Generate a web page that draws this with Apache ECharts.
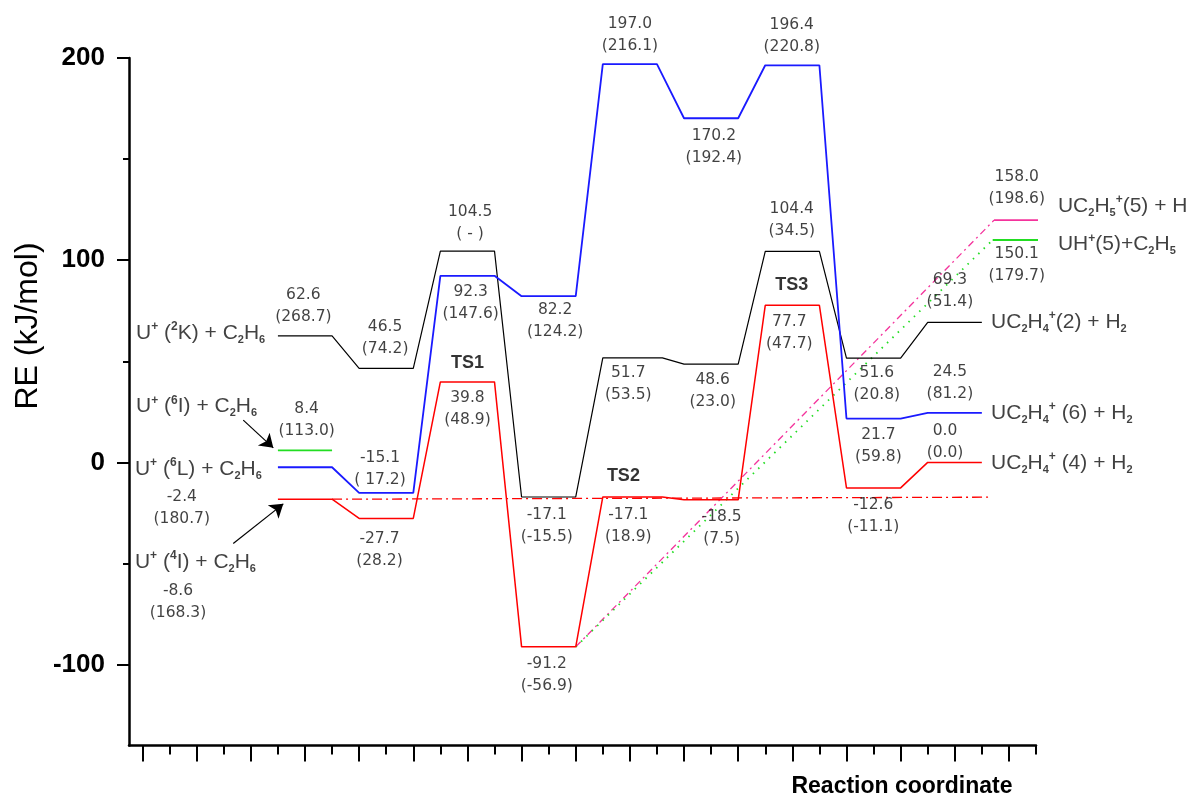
<!DOCTYPE html>
<html><head><meta charset="utf-8">
<script src="https://cdn.jsdelivr.net/npm/echarts@6/dist/echarts.min.js"></script>
<style>html,body{margin:0;padding:0;background:#fff}#c{width:1191px;height:799px}</style>
</head><body><div id="c"></div>
<script>
// ---- energy profile paths: [reaction coordinate, RE (kJ/mol)] ----
const blackPath = [[5,62.6],[7,62.6],[8,46.5],[10,46.5],[11,104.5],[13,104.5],[14,-17.1],[16,-17.1],[17,51.7],[19.2,51.7],[20,48.6],[22,48.6],[23,104.4],[25,104.4],[26,51.6],[28,51.6],[29,69.3],[31,69.3]];
const bluePath  = [[5,-2.4],[7,-2.4],[8,-15.1],[10,-15.1],[11,92.3],[13,92.3],[14,82.2],[16,82.2],[17,197.0],[19,197.0],[20,170.2],[22,170.2],[23,196.4],[25,196.4],[26,21.7],[28,21.7],[29,24.5],[31,24.5]];
const redPath   = [[5,-18.2],[7,-18.2],[8,-27.7],[10,-27.7],[11,39.8],[13,39.8],[14,-91.2],[16,-91.2],[17,-17.1],[19.2,-17.1],[20,-18.5],[22,-18.5],[23,77.7],[25,77.7],[26,-12.6],[28,-12.6],[29,0.0],[31,0.0]];
const greenLevel = [[5,6.0],[7,6.0]];
const redRefLine = [[7,-18.2],[31.25,-17.2]];
const pinkPath  = [[16,-91.2],[31.45,119.8]];
const pinkLevel = [[31.45,119.8],[33.2,119.8]];
const limePath  = [[16,-91.2],[31.4,110.0]];
const limeLevel = [[31.4,110.0],[33.15,110.0]];

// ---- energy value labels (upper line, lower line) and anchors in data coords ----
const valueTop    = ['62.6','46.5','104.5','92.3','82.2','39.8','8.4','-15.1','-27.7','197.0','170.2','196.4','104.4','77.7','51.7','48.6','-17.1','-17.1','-18.5','-91.2','51.6','69.3','24.5','21.7','0.0','-12.6','158.0','150.1','-2.4','-8.6'];
const valueBottom = ['(268.7)','(74.2)','( - )','(147.6)','(124.2)','(48.9)','(113.0)','( 17.2)','(28.2)','(216.1)','(192.4)','(220.8)','(34.5)','(47.7)','(53.5)','(23.0)','(-15.5)','(18.9)','(7.5)','(-56.9)','(20.8)','(51.4)','(81.2)','(59.8)','(0.0)','(-11.1)','(198.6)','(179.7)','(180.7)','(168.3)'];
const valueAnchors = [[5.94,77.4],[8.96,61.5],[12.1,118.3],[12.12,78.8],[15.24,69.9],[12.0,26.3],[6.06,20.8],[8.77,-3.2],[8.75,-43.4],[18.0,211.6],[21.1,155.9],[23.98,210.8],[23.98,120.1],[23.89,63.8],[17.94,38.8],[21.06,35.4],[14.93,-31.3],[17.94,-31.3],[21.39,-32.6],[14.93,-105.1],[27.12,38.6],[29.82,84.6],[29.82,39.1],[27.18,8.0],[29.64,10.3],[26.99,-26.3],[32.29,135.5],[32.29,97.7],[1.45,-22.6],[1.31,-69.0]];

// ---- transition state labels ----
const tsNames = ['TS1','TS2','TS3'];
const tsAnchors = [[12.0,49.3],[17.76,-6.8],[23.98,87.7]];

// ---- species labels (rich text) ----
const speciesNames = [
  'U{sup|+} ({sup|2}K) + C{sub|2}H{sub|6}',
  'U{sup|+} ({sup|6}I) + C{sub|2}H{sub|6}',
  'U{sup|+} ({sup|6}L) + C{sub|2}H{sub|6}',
  'U{sup|+} ({sup|4}I) + C{sub|2}H{sub|6}',
  'UC{sub|2}H{sub|5}{sup|+}(5) + H',
  'UH{sup|+}(5)+C{sub|2}H{sub|5}',
  'UC{sub|2}H{sub|4}{sup|+}(2) + H{sub|2}',
  'UC{sub|2}H{sub|4}{sup|+} (6) + H{sub|2}',
  'UC{sub|2}H{sub|4}{sup|+} (4) + H{sub|2}'
];
const speciesAnchors = [[-0.24,64.0],[-0.24,27.8],[-0.28,-3.3],[-0.28,-49.3],[33.81,126.8],[33.81,107.9],[31.34,69.4],[31.34,24.4],[31.34,-0.3]];

// ---- arrows ----
const arrows = [[[3.72,20.9],[4.83,7.2]],[[3.35,-40.1],[5.2,-20.5]]];

// ---- axes ----
const yMajorTicks = [200,100,0,-100];
const yMinorTicks = [150,50,-50];
const xMinorTicks = Array.from({length:34},(_,i)=>i);
const xMajorTicks = Array.from({length:17},(_,i)=>2*i);

const chart = echarts.init(document.getElementById('c'), null, {renderer:'canvas'});
const numFont = 'DejaVu Sans';
function lineS(data, color, width, type){
  return {type:'line', data:data, symbol:'none', clip:false, silent:true,
    lineStyle:{color:color, width:width, type:type||'solid'}, z:3};
}
const option = {
  animation:false,
  backgroundColor:'#ffffff',
  grid:{left:129, top:58, width:907, height:687.5, containLabel:false},
  xAxis:[
    {type:'value', min:-0.5, max:33, position:'bottom',
     axisLine:{show:true, onZero:false, lineStyle:{color:'#000', width:2.5}},
     axisTick:{show:true, customValues:xMinorTicks, length:9, lineStyle:{color:'#000', width:2}},
     axisLabel:{show:false}, splitLine:{show:false}},
    {type:'value', min:-0.5, max:33, position:'bottom',
     axisLine:{show:false, onZero:false},
     axisTick:{show:true, customValues:xMajorTicks, length:16, lineStyle:{color:'#000', width:2}},
     axisLabel:{show:false}, splitLine:{show:false}}
  ],
  yAxis:[
    {type:'value', min:-140, max:200, position:'left',
     axisLine:{show:true, onZero:false, lineStyle:{color:'#000', width:2.5}},
     axisTick:{show:true, customValues:yMajorTicks, length:12, lineStyle:{color:'#000', width:2}},
     axisLabel:{show:true, customValues:yMajorTicks, margin:24, color:'#000', fontSize:26, fontWeight:'bold', fontFamily:'Liberation Sans'},
     splitLine:{show:false}},
    {type:'value', min:-140, max:200, position:'left',
     axisLine:{show:false, onZero:false},
     axisTick:{show:true, customValues:yMinorTicks, length:6, lineStyle:{color:'#000', width:2}},
     axisLabel:{show:false}, splitLine:{show:false}}
  ],
  graphic:[
    {type:'text', x:28, y:326, rotation:Math.PI/2,
     style:{text:'RE (kJ/mol)', fontSize:32, fontFamily:'Liberation Sans', fill:'#000', align:'center', verticalAlign:'middle'}},
    {type:'text', x:902, y:787,
     style:{text:'Reaction coordinate', fontSize:23, fontWeight:'bold', fontFamily:'Liberation Sans', fill:'#000', align:'center', verticalAlign:'middle'}}
  ],
  series:[
    lineS(redRefLine, '#ff0000', 1.3, [10,4,2,4]),
    lineS(pinkPath, '#f4339c', 1.3, [7,4,2,4]),
    lineS(limePath, '#22dd22', 1.8, [1.5,6]),
    lineS(pinkLevel, '#f4339c', 1.8),
    lineS(limeLevel, '#22dd22', 1.8),
    lineS(blackPath, '#000000', 1.2),
    lineS(bluePath, '#1a1aff', 1.8),
    lineS(redPath, '#ff0000', 1.5),
    lineS(greenLevel, '#22dd22', 1.8),
    {type:'lines', coordinateSystem:'cartesian2d', silent:true, z:4,
     symbol:['none','arrow'], symbolSize:[9,13],
     lineStyle:{color:'#000', width:1.2, opacity:1, curveness:0},
     data:arrows.map(a=>({coords:a}))},
    {type:'scatter', symbolSize:0, clip:false, silent:true, z:5,
     label:{show:true, position:'inside', color:'#111', fontSize:15.5, fontFamily:numFont, lineHeight:22, align:'center', verticalAlign:'middle'},
     data:valueAnchors.map((p,i)=>({value:p, label:{formatter:valueTop[i]+'\n'+valueBottom[i]}}))},
    {type:'scatter', symbolSize:0, clip:false, silent:true, z:5,
     label:{show:true, position:'inside', color:'#000', fontSize:18, fontWeight:'bold', fontFamily:'Liberation Sans', align:'center', verticalAlign:'middle'},
     data:tsAnchors.map((p,i)=>({value:p, label:{formatter:tsNames[i]}}))},
    {type:'scatter', symbolSize:0, clip:false, silent:true, z:5,
     label:{show:true, position:'right', distance:0, color:'#111', fontSize:21, fontFamily:'Liberation Sans', lineHeight:24, verticalAlign:'middle',
       rich:{
         sup:{fontSize:12, fontWeight:'bold', fontFamily:'Liberation Sans', color:'#111', lineHeight:16, verticalAlign:'top'},
         sub:{fontSize:11, fontWeight:'bold', fontFamily:'Liberation Sans', color:'#111', lineHeight:6, verticalAlign:'bottom'}
       }},
     data:speciesAnchors.map((p,i)=>({value:p, label:{formatter:speciesNames[i]}}))}
  ]
};
chart.setOption(option);
</script>
</body></html>
